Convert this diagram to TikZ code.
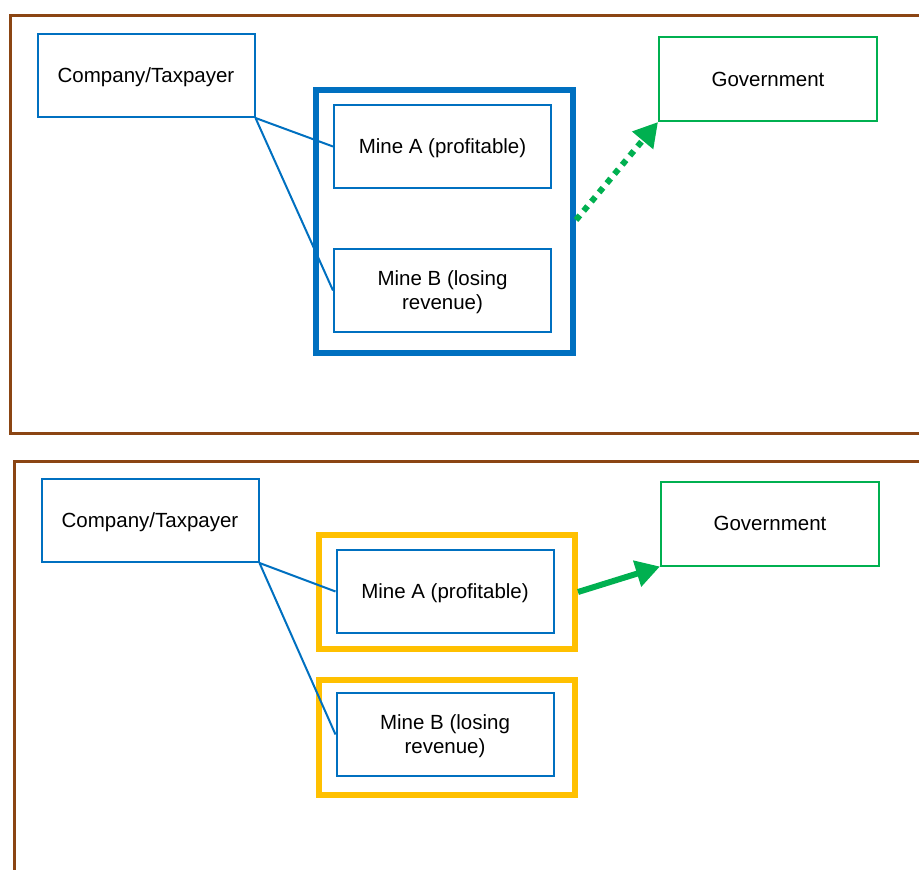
\documentclass[tikz,border=0pt]{standalone}
\usepackage{fontspec}
\setmainfont{Liberation Sans}
\usetikzlibrary{arrows.meta}
\definecolor{brn}{HTML}{8B4513}
\definecolor{blu}{HTML}{0070C0}
\definecolor{grn}{HTML}{00B050}
\definecolor{ylw}{HTML}{FFC000}
\tikzset{
  frame/.style={draw=brn, line width=3pt},
  bbox/.style={draw=blu, line width=2pt, minimum width=217pt, minimum height=83pt, inner sep=0pt, text depth=0pt, align=center, font=\fontsize{20.5}{24}\selectfont},
  gbox/.style={draw=grn, line width=2pt, minimum width=218pt, minimum height=84pt, inner sep=0pt, text depth=0pt, align=center, font=\fontsize{20.5}{24}\selectfont},
  conn/.style={draw=blu, line width=2pt},
  garrow/.style={draw=grn, line width=6pt, -{Triangle[length=24pt,width=26pt]}},
}
\begin{document}
\begin{tikzpicture}[x=1pt,y=-1pt]
\useasboundingbox (0,0) rectangle (919,870);
% frames
\draw[frame] (930,15) -- (10,15) -- (10,433) -- (930,433);
\draw[frame] (930,461) -- (14,461) -- (14,880);
% top panel
\node[bbox] (c1) at (146,75.5) {Company/Taxpayer};
\draw[draw=blu, line width=6pt] (316,90) rectangle (573,353);
\coordinate (big1) at (576,220);
\node[bbox] (a1) at (442.5,146.5) {Mine A (profitable)};
\node[bbox] (b1) at (442.5,290.5) {Mine B (losing\\revenue)};
\node[gbox] (g1) at (768,79) {Government};
\draw[conn] (c1.south east) -- (a1.west);
\draw[conn] (c1.south east) -- (b1.west);
\draw[garrow, dash pattern=on 6pt off 6pt] (big1) -- (g1.south west);
% bottom panel
\node[bbox] (c2) at (150,520.5) {Company/Taxpayer};
\draw[draw=ylw, line width=6pt] (319,535) rectangle (575,649);
\draw[draw=ylw, line width=6pt] (319,680) rectangle (575,795);
\coordinate (ya) at (578,592);
\node[bbox] (a2) at (445,591.5) {Mine A (profitable)};
\node[bbox] (b2) at (445,734.5) {Mine B (losing\\revenue)};
\node[gbox] (g2) at (770,523.5) {Government};
\draw[conn] (c2.south east) -- (a2.west);
\draw[conn] (c2.south east) -- (b2.west);
\draw[garrow] (ya) -- (g2.south west);
\end{tikzpicture}
\end{document}
